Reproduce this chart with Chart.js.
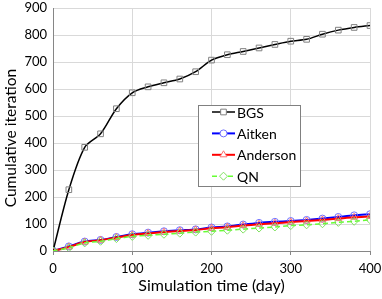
<!DOCTYPE html>
<html>
<head>
  <script src="https://cdn.jsdelivr.net/npm/chart.js"></script>
  <style>
    body { margin: 0; background: #fff; }
    #wrap { width: 382px; height: 299px; }
  </style>
</head>
<body>
  <div id="wrap"><canvas id="chart" width="382" height="299"></canvas></div>

  <script>
    // Simulation time (day)
    const days = [0, 20, 40, 60, 80, 100, 120, 140, 160, 180, 200, 220, 240, 260, 280, 300, 320, 340, 360, 380, 400];

    // Cumulative iteration per method
    const bgs = [0, 227, 384, 434, 527, 586, 608, 623, 637, 664, 707, 727, 739, 752, 765, 777, 784, 803, 818, 828, 835];
    const aitken = [0, 17, 35, 41, 52, 62, 68, 73, 77, 80, 87, 91, 98, 104, 108, 111, 115, 120, 126, 132, 136];
    const anderson = [0, 15, 33, 40, 50, 59, 65, 70, 74, 78, 84, 88, 94, 99, 103, 107, 111, 115, 120, 125, 128];
    const qn = [0, 12, 30, 36, 46, 54, 58, 62, 66, 70, 73, 77, 81, 85, 89, 94, 97, 101, 106, 110, 116];

    const seriesNames = ['BGS', 'Aitken', 'Anderson', 'QN'];
    const yTitle = 'Cumulative iteration';

    const FONT = 'Lato, "Liberation Sans", sans-serif';

    function pts(ys) {
      return days.map((d, i) => ({ x: d, y: ys[i] }));
    }

    // legend drawn inside the plot, Excel style box, plus the y title
    const boxLegend = {
      id: 'boxLegend',
      afterDraw(chart) {
        const ctx = chart.ctx;
        const x0 = 198, y0 = 105, w = 102, h = 81;
        ctx.save();
        ctx.fillStyle = '#fff';
        ctx.fillRect(x0, y0, w, h);
        ctx.strokeStyle = '#808080';
        ctx.lineWidth = 1;
        ctx.strokeRect(x0 + 0.5, y0 + 0.5, w, h);
        chart.data.datasets.forEach((ds, i) => {
          const y = 112 + i * 21.4;
          ctx.strokeStyle = ds.borderColor;
          ctx.lineWidth = ds.borderWidth;
          ctx.setLineDash(ds.borderDash || []);
          ctx.beginPath();
          ctx.moveTo(212, y);
          ctx.lineTo(235, y);
          ctx.stroke();
          ctx.setLineDash([]);
          ctx.fillStyle = '#fff';
          ctx.strokeStyle = ds.pointBorderColor;
          ctx.lineWidth = 1;
          Chart.helpers.drawPoint(ctx, {
            pointStyle: ds.pointStyle,
            radius: ds.pointRadius,
            borderWidth: 1
          }, 223.5, y);
          ctx.fillStyle = '#000';
          ctx.font = '14px ' + FONT;
          ctx.textBaseline = 'middle';
          ctx.textAlign = 'left';
          ctx.fillText(ds.label, 237, y + 1);
        });

        // y axis title
        ctx.translate(11, 138);
        ctx.rotate(-Math.PI / 2);
        ctx.fillStyle = '#000';
        ctx.font = '15.5px ' + FONT;
        ctx.textAlign = 'center';
        ctx.textBaseline = 'middle';
        ctx.fillText(yTitle, 0, 0);
        ctx.restore();
      }
    };

    const ctx = document.getElementById('chart').getContext('2d');
    const chart = new Chart(ctx, {
      type: 'line',
      data: {
        datasets: [
          {
            label: seriesNames[0], data: pts(bgs),
            borderColor: '#000', borderWidth: 1.5,
            pointStyle: 'rect', pointRadius: 4, pointBorderColor: '#808080',
            pointBackgroundColor: 'rgba(255,255,255,0)', pointBorderWidth: 1,
            tension: 0.3, order: 4
          },
          {
            label: seriesNames[1], data: pts(aitken),
            borderColor: '#0000ff', borderWidth: 2,
            pointStyle: 'circle', pointRadius: 3.5, pointBorderColor: '#6f6fff',
            pointBackgroundColor: 'rgba(255,255,255,0)', pointBorderWidth: 1,
            tension: 0.3, order: 3
          },
          {
            label: seriesNames[2], data: pts(anderson),
            borderColor: '#ff0000', borderWidth: 2,
            pointStyle: 'triangle', pointRadius: 4, pointBorderColor: '#ff7070',
            pointBackgroundColor: 'rgba(255,255,255,0)', pointBorderWidth: 1,
            tension: 0.3, order: 2
          },
          {
            label: seriesNames[3], data: pts(qn),
            borderColor: '#66ff33', borderWidth: 1.5, borderDash: [5, 3],
            pointStyle: 'rectRot', pointRadius: 4, pointBorderColor: '#80e060',
            pointBackgroundColor: 'rgba(255,255,255,0)', pointBorderWidth: 1,
            tension: 0.3, order: 1
          }
        ]
      },
      options: {
        responsive: false,
        animation: false,
        layout: { padding: { top: 8, right: 12, left: 0, bottom: 0 } },
        plugins: {
          legend: { display: false },
          tooltip: { enabled: false }
        },
        scales: {
          x: {
            type: 'linear', min: 0, max: 400,
            ticks: { stepSize: 100, color: '#000', font: { family: FONT, size: 13 }, padding: 6 },
            grid: { color: '#d9d9d9', tickColor: '#868686', tickLength: 4 },
            border: { color: '#868686' },
            title: { display: true, text: 'Simulation time (day)', color: '#000', font: { family: FONT, size: 16 }, padding: { top: 2 } },
            afterFit(s) { s.height = 48; s.paddingLeft = 0; s.paddingRight = 0; }
          },
          y: {
            min: 0, max: 900,
            ticks: { stepSize: 100, color: '#000', font: { family: FONT, size: 13 }, padding: 6 },
            grid: { color: '#d9d9d9', drawTicks: false },
            border: { color: '#868686' },
            afterFit(s) { s.width = 53; s.paddingTop = 0; s.paddingBottom = 0; }
          }
        }
      },
      plugins: [boxLegend]
    });
  </script>
</body>
</html>
